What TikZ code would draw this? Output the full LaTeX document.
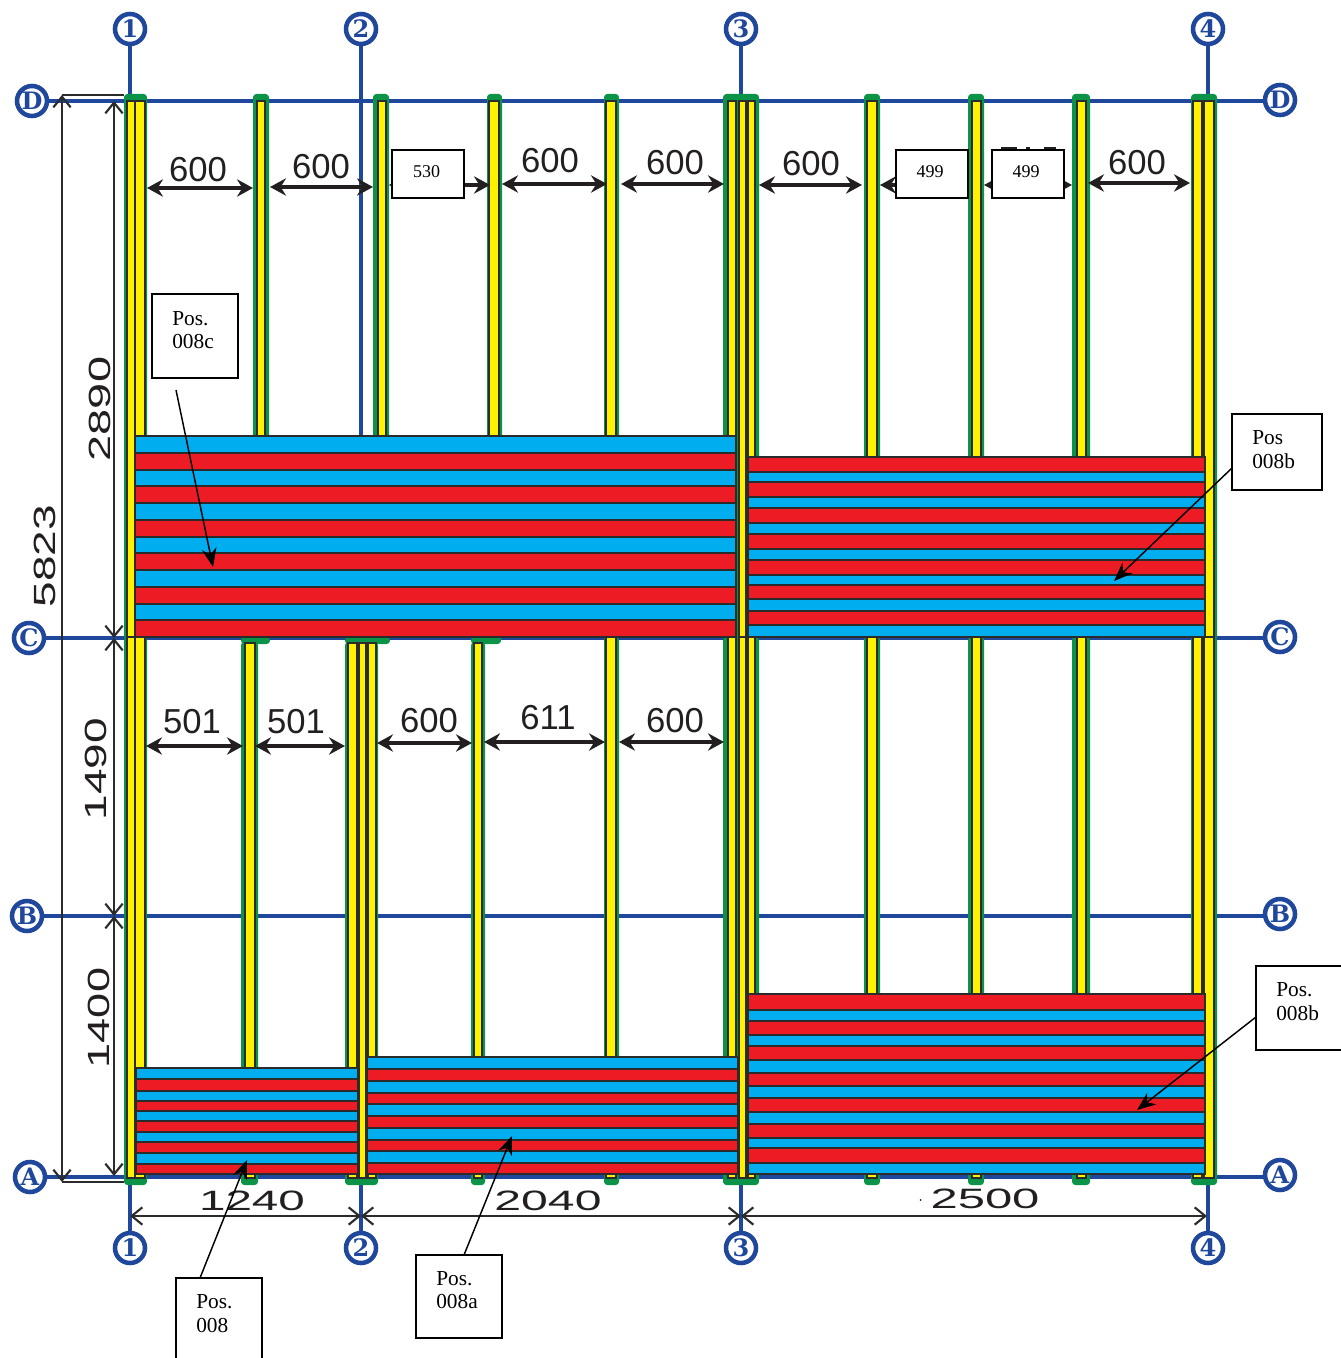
\documentclass[tikz,border=0pt]{standalone}
\usepackage{fontspec}
\usepackage{graphicx}
\setmainfont{Liberation Sans}
\newfontfamily\boxserif{Liberation Serif}
\newfontfamily\gridfont{DejaVu Serif}
\usetikzlibrary{arrows.meta}
\definecolor{gridblue}{HTML}{1F479B}
\definecolor{postgreen}{HTML}{0B9347}
\definecolor{postyellow}{HTML}{FFF200}
\definecolor{edgedark}{HTML}{2B2B2B}
\definecolor{barred}{HTML}{ED1C24}
\definecolor{barblue}{HTML}{00AEEF}
\definecolor{inkdark}{HTML}{231F20}
\tikzset{
  gridcirc/.style={circle,draw=gridblue,fill=white,line width=3.4pt,minimum size=22.5pt,inner sep=0pt,
    text=gridblue,font=\gridfont\bfseries\fontsize{18}{18}\selectfont},
  gridline/.style={draw=gridblue,line width=3.6pt},
  postg/.style={fill=postgreen,rounded corners=2.5pt},
  posty/.style={fill=postyellow,draw=edgedark,line width=0.8pt},
  stripe/.style={draw=edgedark,line width=0.9pt},
  thinline/.style={draw=edgedark,line width=1.6pt},
  ticked/.style={thinline,{Straight Barb[length=8pt,width=13pt,line width=1.6pt]}-{Straight Barb[length=8pt,width=13pt,line width=1.6pt]}},
  bolddim/.style={draw=inkdark,line width=3pt,{Stealth[length=12pt,width=13pt,inset=4pt]}-{Stealth[length=12pt,width=13pt,inset=4pt]}},
  dimtext/.style={text=inkdark,inner sep=0pt,font=\fontsize{26}{26}\selectfont},
  widetext/.style={text=inkdark,inner sep=0pt,font=\fontsize{21}{21}\selectfont},
  sidetext/.style={text=inkdark,inner sep=0pt,rotate=90,font=\fontsize{23}{23}\selectfont},
  tagbox/.style={draw=black,fill=white,line width=1.4pt,anchor=north west,inner sep=0pt,outer sep=0pt},
  tagtext/.style={inner sep=0pt,anchor=west,align=left,font=\boxserif\fontsize{16}{17.6}\selectfont},
  numtext/.style={inner sep=0pt,font=\boxserif\fontsize{13.5}{14}\selectfont},
  leader/.style={draw=black,line width=1.1pt,-{Stealth[length=14pt,width=11pt]}},
}
% x0 x1 y0 y1
\newcommand{\gpost}[4]{\fill[postg] (#1,#3) rectangle (#2,#4);}
\newcommand{\ypost}[4]{\filldraw[posty] (#1,#3) rectangle (#2,#4);}
% name x1 x2 y label lx ly
\newcommand{\boldarrow}[7]{%
  \coordinate (#1a) at (#2,#4);\coordinate (#1b) at (#3,#4);
  \draw[bolddim] (#1a) -- (#1b);
  \node[dimtext] (#1t) at (#6,#7) {#5};}
\begin{document}
\begin{tikzpicture}[x=0.75pt,y=-0.75pt]
\useasboundingbox (0,0) rectangle (1340,1358);

% grid bubbles
\node[gridcirc] (t1) at (130,29) {1};
\node[gridcirc] (t2) at (361,29) {2};
\node[gridcirc] (t3) at (741,29) {3};
\node[gridcirc] (t4) at (1208,29) {4};
\node[gridcirc] (b1) at (130,1248) {1};
\node[gridcirc] (b2) at (361,1248) {2};
\node[gridcirc] (b3) at (741,1248) {3};
\node[gridcirc] (b4) at (1208,1248) {4};
\node[gridcirc] (lD) at (32,101) {D};
\node[gridcirc] (lC) at (29,638) {C};
\node[gridcirc] (lB) at (27,916) {B};
\node[gridcirc] (lA) at (30,1177) {A};
\node[gridcirc] (rD) at (1280,100) {D};
\node[gridcirc] (rC) at (1280,637) {C};
\node[gridcirc] (rB) at (1280,914) {B};
\node[gridcirc] (rA) at (1280,1175) {A};

% grid lines
\draw[gridline] (t1) -- (b1);
\draw[gridline] (t2) -- (b2);
\draw[gridline] (t3) -- (b3);
\draw[gridline] (t4) -- (b4);
\draw[gridline] (lD.east) -- (lD.east -| rD.west);
\draw[gridline] (lC.east) -- (lC.east -| rC.west);
\draw[gridline] (lB.east) -- (lB.east -| rB.west);
\draw[gridline] (lA.east) -- (lA.east -| rA.west);

% upper posts
\foreach \a/\b in {124/147,253/269,373/389,487/502,604/619,723/759,864/880,968/984,1072/1090,1191/1217}
  {\gpost{\a}{\b}{94}{640}}
\foreach \a/\b in {127/135,135/145,257/265,378/386,489/499,606/616,728/736,739/746,748/755,867/877,972/981,1077/1086,1193/1202,1204/1214}
  {\ypost{\a}{\b}{101}{637}}

% lower posts
\foreach \a/\b in {124/147,604/619,723/759,864/880,968/984,1072/1090,1191/1217}
  {\gpost{\a}{\b}{637}{1185}}
\foreach \a/\b in {241/258,345/378,471/485}
  {\gpost{\a}{\b}{642}{1185}}
\fill[postg] (241,637) rectangle (270,644);
\fill[postg] (345,637) rectangle (390,644);
\fill[postg] (471,637) rectangle (501,644);
\foreach \a/\b in {127/135,135/145,606/616,728/736,739/746,748/755,867/877,972/981,1077/1086,1193/1202,1204/1214}
  {\ypost{\a}{\b}{637}{1178}}
\foreach \a/\b in {245/255,348/357,359/366,368/376,474/482}
  {\ypost{\a}{\b}{643}{1178}}

% bars, upper left
\foreach \p/\q/\c in {436/453/barblue,453/470/barred,470/486/barblue,486/503/barred,503/520/barblue,520/537/barred,537/553/barblue,553/570/barred,570/587/barblue,587/604/barred,604/620/barblue,620/637/barred}
  {\filldraw[stripe,fill=\c] (135,\p) rectangle (736,\q);}
% bars, upper right
\foreach \p/\q/\c in {457/472/barred,472/482/barblue,482/497/barred,497/508/barblue,508/523/barred,523/534/barblue,534/549/barred,549/560/barblue,560/575/barred,575/585/barblue,585/599/barred,599/611/barblue,611/625/barred,625/637/barblue}
  {\filldraw[stripe,fill=\c] (748,\p) rectangle (1205,\q);}
% bars, lower left
\foreach \p/\q/\c in {1068/1079/barblue,1079/1091/barred,1091/1101/barblue,1101/1111/barred,1111/1121/barblue,1121/1132/barred,1132/1142/barblue,1142/1153/barred,1153/1164/barblue,1164/1174/barred}
  {\filldraw[stripe,fill=\c] (136,\p) rectangle (358,\q);}
% bars, lower middle
\foreach \p/\q/\c in {1057/1069/barblue,1069/1081/barred,1081/1093/barblue,1093/1104/barred,1104/1116/barblue,1116/1128/barred,1128/1140/barblue,1140/1151/barred,1151/1163/barblue,1163/1174/barred}
  {\filldraw[stripe,fill=\c] (367,\p) rectangle (738,\q);}
% bars, lower right
\foreach \p/\q/\c in {994/1010/barred,1010/1021/barblue,1021/1035/barred,1035/1046/barblue,1046/1060/barred,1060/1073/barblue,1073/1086/barred,1086/1098/barblue,1098/1112/barred,1112/1124/barblue,1124/1138/barred,1138/1148/barblue,1148/1163/barred,1163/1174/barblue}
  {\filldraw[stripe,fill=\c] (748,\p) rectangle (1205,\q);}

% overall vertical dimension
\coordinate (outT) at (62,95);
\coordinate (outB) at (62,1182);
\coordinate (outTr) at (124,95);
\coordinate (outBr) at (124,1182);
\draw[ticked] (outT) -- (outB);
\draw[thinline] (outT) -- (outTr);
\draw[thinline] (outB) -- (outBr);
% storey dimensions
\coordinate (inD) at (114,101);
\coordinate (inC) at (114,638);
\coordinate (inB) at (114,916);
\coordinate (inA) at (114,1176);
\draw[ticked] (inD) -- (inC);
\draw[ticked] (inC) -- (inB);
\draw[ticked] (inB) -- (inA);
% bottom dimensions
\coordinate (dim1) at (130,1216);
\coordinate (dim2) at (361,1216);
\coordinate (dim3) at (741,1216);
\coordinate (dim4) at (1207,1216);
\draw[ticked] (dim1) -- (dim2);
\draw[ticked] (dim2) -- (dim3);
\draw[ticked] (dim3) -- (dim4);

% long labels
\node[sidetext] (s5823) at (45,556) {\scalebox{1.5}[1]{5823}};
\node[sidetext] (s2890) at (100,409) {\scalebox{1.53}[1]{2890}};
\node[sidetext] (s1490) at (96,769) {\scalebox{1.5}[1]{1490}};
\node[sidetext] (s1400) at (99,1018) {\scalebox{1.47}[1]{1400}};
\node[widetext] (w1240) at (252,1201) {\scalebox{1.7}[1]{1240}};
\node[widetext] (w2040) at (548,1201) {\scalebox{1.72}[1]{2040}};
\node[widetext] (w2500) at (985,1199) {\scalebox{1.75}[1]{2500}};
\fill[inkdark] (920.5,1200) circle (1);

% spacing arrows, upper
\boldarrow{ua}{147}{253}{188}{600}{198}{170}
\boldarrow{ub}{270}{373}{187}{600}{321}{167}
\coordinate (uca) at (389,185);\coordinate (ucb) at (490,185);
\draw[bolddim] (uca) -- (ucb);
\boldarrow{ud}{502}{607}{184}{600}{550}{161}
\boldarrow{ue}{621}{724}{184}{600}{675}{163}
\boldarrow{uf}{759}{862}{185}{600}{811}{164}
\coordinate (uga) at (880,185);\coordinate (ugb) at (968,185);
\draw[bolddim] (uga) -- (ugb);
\coordinate (uha) at (984,185);\coordinate (uhb) at (1072,185);
\draw[bolddim] (uha) -- (uhb);
\boldarrow{ui}{1088}{1190}{183}{600}{1137}{163}
% spacing arrows, lower
\boldarrow{la}{146}{243}{746}{501}{192}{722}
\boldarrow{lb}{255}{345}{746}{501}{296}{722}
\boldarrow{lc}{377}{472}{743}{600}{429}{721}
\boldarrow{ld}{484}{605}{742}{611}{548}{718}
\boldarrow{le}{619}{724}{742}{600}{675}{721}

% the sliver of an older figure above the third box
\fill[inkdark] (1001,147.5) rectangle (1017,150);
\fill[inkdark] (1026,147.5) rectangle (1030,150);
\fill[inkdark] (1044,147.5) rectangle (1056,150);

% number boxes
\node[tagbox,minimum width=54pt,minimum height=36pt] (n530) at (392,150) {};
\node[numtext] (n530t) at (426.5,172) {530};
\node[tagbox,minimum width=54pt,minimum height=36pt] (n499a) at (896,150) {};
\node[numtext] (n499at) at (930,172) {499};
\node[tagbox,minimum width=54pt,minimum height=36pt] (n499b) at (992,150) {};
\node[numtext] (n499bt) at (1026,172) {499};

% position boxes
\node[tagbox,minimum width=64.5pt,minimum height=63pt] (p8c) at (152,294) {};
\node[tagtext] (p8ct) at (172,330) {Pos.\\008c};
\node[tagbox,minimum width=67.5pt,minimum height=57pt] (p8b) at (1232,414) {};
\node[tagtext] (p8bt) at (1252,449.5) {Pos\\008b};
\node[tagbox,minimum width=66pt,minimum height=63pt] (p8bl) at (1256,966) {};
\node[tagtext] (p8blt) at (1276,1001.5) {Pos.\\008b};
\node[tagbox,minimum width=64.5pt,minimum height=62pt] (p8) at (176,1278) {};
\node[tagtext] (p8t) at (196,1313.5) {Pos.\\008};
\node[tagbox,minimum width=64.5pt,minimum height=62pt] (p8a) at (416,1255) {};
\node[tagtext] (p8at) at (436,1290) {Pos.\\008a};

% leaders
\coordinate (q8c) at (176,390);
\coordinate (e8c) at (213,567);
\coordinate (q8b) at (1232,468);
\coordinate (e8b) at (1114,581);
\coordinate (q8bl) at (1256,1017);
\coordinate (e8bl) at (1137,1110);
\coordinate (q8) at (200,1278);
\coordinate (e8) at (247,1160);
\coordinate (q8a) at (464,1255);
\coordinate (e8a) at (512,1136);
\draw[leader] (q8c) -- (e8c);
\draw[leader] (q8b) -- (e8b);
\draw[leader] (q8bl) -- (e8bl);
\draw[leader] (q8) -- (e8);
\draw[leader] (q8a) -- (e8a);
\end{tikzpicture}
\end{document}
